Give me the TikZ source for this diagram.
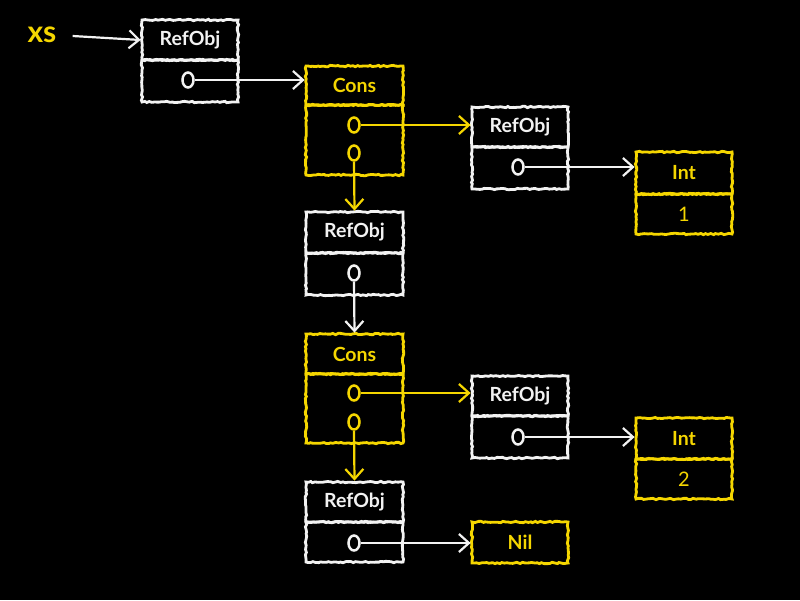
\documentclass[tikz,border=0pt]{standalone}
\usepackage{fontspec}
\setmainfont{Lato}[BoldFont={Lato Bold}]
\usetikzlibrary{arrows.meta,decorations.pathmorphing,shapes.geometric}
\definecolor{chalkyellow}{RGB}{245,214,0}
\definecolor{chalkwhite}{RGB}{242,242,242}
\begin{document}
\begin{tikzpicture}[x=1pt,y=-1pt,
  chalk/.style={decorate,decoration={random steps,segment length=2.5pt,amplitude=0.7pt}},
  wbox/.style={draw=chalkwhite, line width=2.8pt, chalk, minimum width=96pt, inner sep=0pt,
    text=chalkwhite, font=\bfseries\fontsize{19.5}{22}\selectfont},
  ybox/.style={wbox, draw=chalkyellow, text=chalkyellow},
  val/.style={font=\fontsize{20}{22}\selectfont},
  wring/.style={ellipse, draw=chalkwhite, line width=2.5pt, minimum width=11pt, minimum height=15pt, inner sep=0pt},
  yring/.style={wring, draw=chalkyellow},
  warrow/.style={draw=chalkwhite, line width=2.2pt, -{Straight Barb[length=10pt,width=18pt,line width=2.2pt]}},
  yarrow/.style={warrow, draw=chalkyellow},
]
\fill[black] (0,0) rectangle (800,600);
\useasboundingbox (0,0) rectangle (800,600);

% label
\node[text=chalkyellow, font=\bfseries\fontsize{30}{32}\selectfont, inner sep=1pt] (xs) at (42,35) {xs};

% RefObj 1
\node[wbox, minimum height=40pt] (r1h) at (190,40) {RefObj};
\node[wbox, minimum height=42pt] (r1b) at (190,81) {};
\node[wring] (r1c) at (188,80) {};

% Cons 1
\node[ybox, minimum width=97pt, minimum height=39pt] (c1h) at (354.5,85.5) {Cons};
\node[ybox, minimum width=97pt, minimum height=70pt] (c1b) at (354.5,140) {};
\node[yring] (c1a) at (354,125) {};
\node[yring] (c1d) at (354,153) {};

% RefObj 2
\node[wbox, minimum height=40pt] (r2h) at (520,127) {RefObj};
\node[wbox, minimum height=42pt] (r2b) at (520,168) {};
\node[wring] (r2c) at (518,167) {};

% Int 1
\node[ybox, minimum height=42pt] (i1h) at (684,173) {Int};
\node[ybox, val, minimum height=40pt] (i1b) at (684,214) {1};

% RefObj 3
\node[wbox, minimum width=97pt, minimum height=41pt] (r3h) at (354.5,232.5) {RefObj};
\node[wbox, minimum width=97pt, minimum height=42pt] (r3b) at (354.5,274) {};
\node[wring] (r3c) at (354,273) {};

% Cons 2
\node[ybox, minimum width=97pt, minimum height=40pt] (c2h) at (354.5,354) {Cons};
\node[ybox, minimum width=97pt, minimum height=69pt] (c2b) at (354.5,408.5) {};
\node[yring] (c2a) at (354,393) {};
\node[yring] (c2d) at (354,422) {};

% RefObj 4
\node[wbox, minimum height=40pt] (r4h) at (520,396) {RefObj};
\node[wbox, minimum height=42pt] (r4b) at (520,437) {};
\node[wring] (r4c) at (518,437) {};

% Int 2
\node[ybox, minimum height=41pt] (i2h) at (684,438.5) {Int};
\node[ybox, val, minimum height=40pt] (i2b) at (684,479) {2};

% RefObj 5
\node[wbox, minimum width=97pt, minimum height=40pt] (r5h) at (354.5,502) {RefObj};
\node[wbox, minimum width=97pt, minimum height=40pt] (r5b) at (354.5,542) {};
\node[wring] (r5c) at (354,543) {};

% Nil
\node[ybox, minimum height=41pt] (nil) at (520,542.5) {Nil};

% connectors
\coordinate (xsend) at ([xshift=15pt,yshift=-1pt]xs.east);
\draw[warrow] (xsend) -- (r1h.west);
\draw[warrow] (r1c.east) -- (r1c -| c1h.west);
\draw[yarrow] (c1a.east) -- (c1a -| r2h.west);
\draw[yarrow] (c1d.south) -- (r3h.north);
\draw[warrow] (r2c.east) -- (r2c -| i1h.west);
\draw[warrow] (r3c.south) -- (c2h.north);
\draw[yarrow] (c2a.east) -- (c2a -| r4h.west);
\draw[yarrow] (c2d.south) -- (r5h.north);
\draw[warrow] (r4c.east) -- (r4c -| i2h.west);
\draw[warrow] (r5c.east) -- (r5c -| nil.west);
\end{tikzpicture}
\end{document}
